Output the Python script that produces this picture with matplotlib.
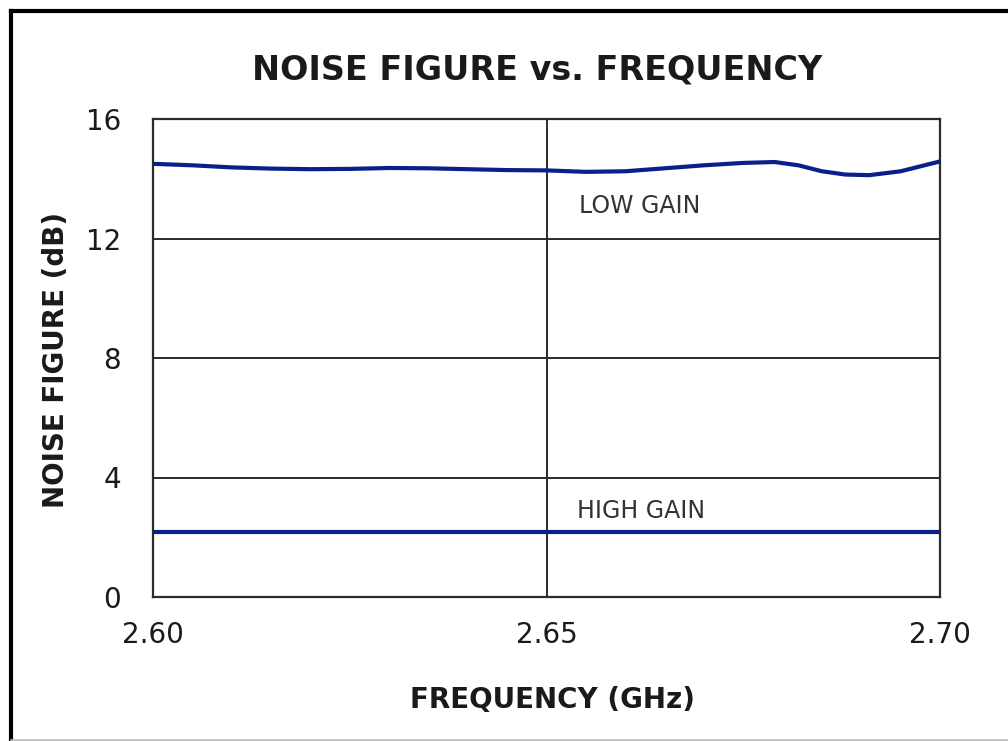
import matplotlib
matplotlib.use("Agg")
import matplotlib.pyplot as plt
from matplotlib.lines import Line2D

plt.rcParams['font.family'] = ['DejaVu Sans']

freq_low = [2.600, 2.605, 2.610, 2.615, 2.620, 2.625, 2.630, 2.635, 2.640, 2.645,
            2.650, 2.655, 2.660, 2.665, 2.670, 2.675, 2.679, 2.682, 2.685, 2.688,
            2.691, 2.695, 2.700]
nf_low = [14.50, 14.45, 14.38, 14.34, 14.32, 14.33, 14.36, 14.35, 14.32, 14.29,
          14.28, 14.23, 14.25, 14.35, 14.45, 14.53, 14.56, 14.45, 14.25, 14.14,
          14.12, 14.25, 14.58]
freq_high = [2.600, 2.650, 2.700]
nf_high = [2.17, 2.17, 2.17]

x_ticks = [2.60, 2.65, 2.70]
x_tick_labels = ["2.60", "2.65", "2.70"]
y_ticks = [0, 4, 8, 12, 16]
y_tick_labels = ["0", "4", "8", "12", "16"]

fig = plt.figure(figsize=(10.08, 7.41), dpi=100)
ax = fig.add_axes([153/1008, 1-597/741, 787/1008, 478/741])

line_color = "#0b1f8c"
grid_color = "#2b2b2b"
text_color = "#1a1a1a"

ax.plot(freq_low, nf_low, color=line_color, lw=3.0, solid_capstyle='butt', zorder=3)
ax.plot(freq_high, nf_high, color=line_color, lw=3.0, solid_capstyle='butt', zorder=3)

ax.set_xlim(2.60, 2.70)
ax.set_ylim(0, 16)
ax.set_xticks(x_ticks)
ax.set_xticklabels(x_tick_labels)
ax.set_yticks(y_ticks)
ax.set_yticklabels(y_tick_labels)
ax.grid(True, color=grid_color, lw=1.4, zorder=1)
for s in ax.spines.values():
    s.set_color(grid_color)
    s.set_linewidth(1.6)
ax.tick_params(axis='both', length=0, labelsize=20, colors=text_color)
ax.tick_params(axis='x', pad=17)
ax.tick_params(axis='y', pad=23)

ax.text(2.6541, 13.1, "LOW GAIN", fontsize=17, color="#333333", va='center', ha='left')
ax.text(2.6539, 2.88, "HIGH GAIN", fontsize=17, color="#333333", va='center', ha='left')

fig.text(537/1008, 1-70/741, "NOISE FIGURE vs. FREQUENCY", fontsize=24, fontweight='bold',
         ha='center', va='center', color=text_color)
fig.text(552/1008, 1-700/741, "FREQUENCY (GHz)", fontsize=20, fontweight='bold',
         ha='center', va='center', color=text_color)
fig.text(56/1008, 1-360/741, "NOISE FIGURE (dB)", fontsize=20, fontweight='bold',
         ha='center', va='center', rotation=90, color=text_color)

# outer frame
fig.add_artist(Line2D([11/1008, 11/1008], [1-11/741, 0], transform=fig.transFigure,
                      color='black', lw=3))
fig.add_artist(Line2D([11/1008, 1], [1-11/741, 1-11/741], transform=fig.transFigure,
                      color='black', lw=3))
fig.add_artist(Line2D([11/1008, 1], [1/741, 1/741], transform=fig.transFigure,
                      color='#bbbbbb', lw=1.2))

fig.savefig("out.png", dpi=100)
